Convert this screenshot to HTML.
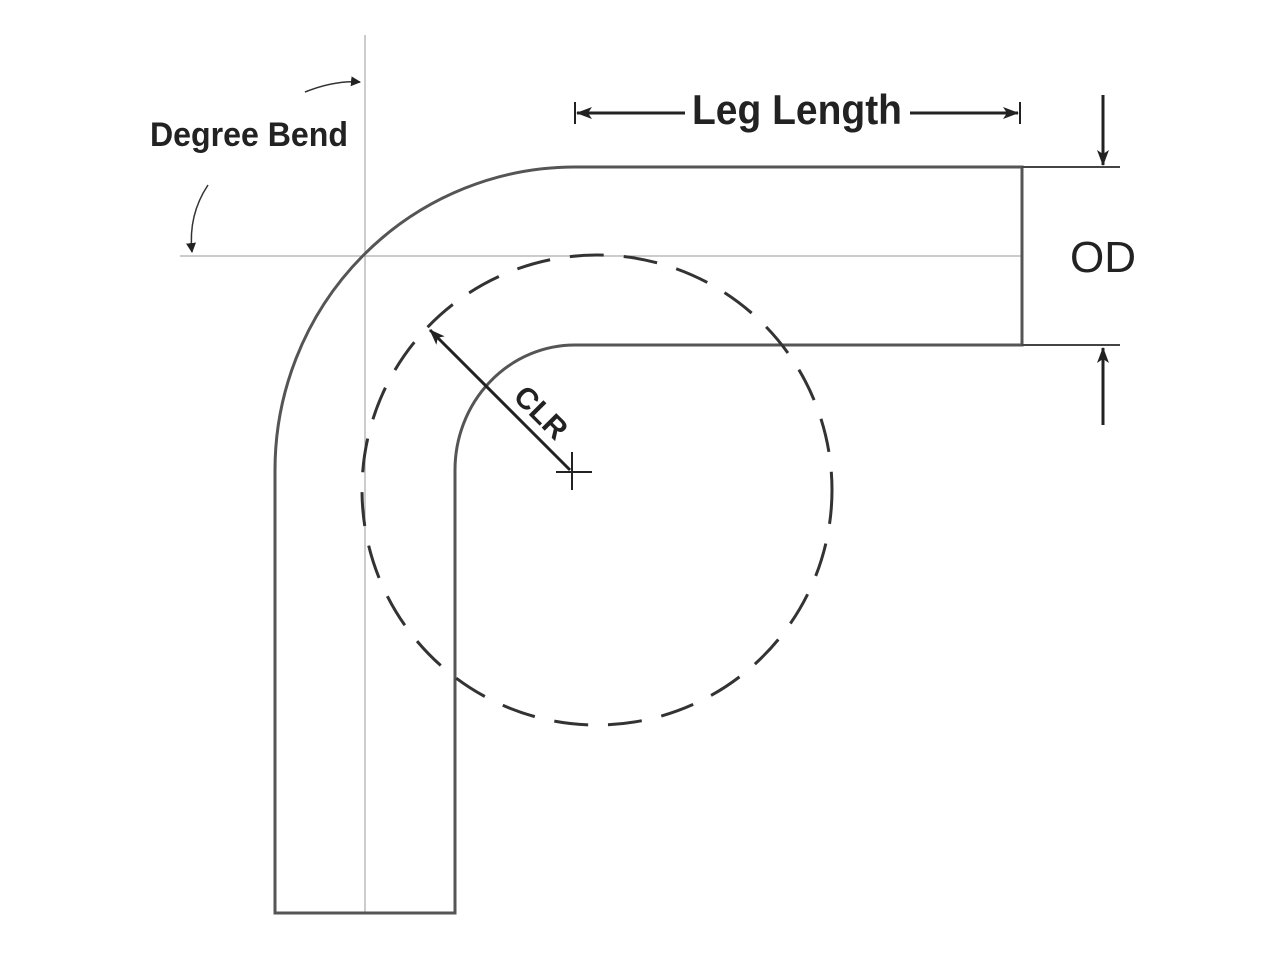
<!DOCTYPE html>
<html><head><style>
html,body{margin:0;padding:0;background:#fff;}
svg{display:block}
text{font-family:"Liberation Sans",sans-serif;font-weight:bold;fill:#222}
</style></head><body>
<svg width="1280" height="960" viewBox="0 0 1280 960" xmlns="http://www.w3.org/2000/svg">
<defs>
<marker id="ah" markerWidth="10" markerHeight="10" refX="9" refY="5" orient="auto" markerUnits="userSpaceOnUse">
<path d="M0,0 L10,5 L0,10 z" fill="#222"/></marker>
<marker id="ah2" markerWidth="16" markerHeight="12" refX="15" refY="6" orient="auto" markerUnits="userSpaceOnUse">
<path d="M0,0 L16,6 L0,12 L4,6 z" fill="#222"/></marker>
</defs>
<!-- center lines -->
<line x1="365" y1="35" x2="365" y2="913" stroke="#999" stroke-width="1"/>
<line x1="180" y1="256" x2="1022" y2="256" stroke="#999" stroke-width="1"/>
<!-- pipe -->
<path d="M275,913 L275,470 A300,303 0 0 1 575,167 L1022,167 L1022,345 L575,345 A120,125 0 0 0 455,470 L455,913 Z" fill="none" stroke="#555" stroke-width="3"/>
<!-- dashed circle -->
<circle cx="597" cy="490" r="235" fill="none" stroke="#333" stroke-width="3" stroke-dasharray="34,20"/>
<!-- CLR -->
<line x1="570" y1="470" x2="430" y2="330" stroke="#222" stroke-width="3" marker-end="url(#ah2)"/>
<line x1="556" y1="472" x2="592" y2="472" stroke="#222" stroke-width="2"/>
<line x1="572" y1="452" x2="572" y2="490" stroke="#222" stroke-width="2"/>
<text x="0" y="0" font-size="30" transform="translate(512,398) rotate(45)" style="font-family:'Liberation Sans Narrow','Liberation Sans',sans-serif">CLR</text>
<!-- Leg Length -->
<line x1="575" y1="102" x2="575" y2="124" stroke="#222" stroke-width="2"/>
<line x1="1020" y1="102" x2="1020" y2="124" stroke="#222" stroke-width="2"/>
<line x1="685" y1="113" x2="577" y2="113" stroke="#222" stroke-width="3" marker-end="url(#ah2)"/>
<line x1="910" y1="113" x2="1018" y2="113" stroke="#222" stroke-width="3" marker-end="url(#ah2)"/>
<text x="797" y="124" font-size="42" text-anchor="middle" textLength="210" lengthAdjust="spacingAndGlyphs">Leg Length</text>
<!-- OD -->
<line x1="1022" y1="167" x2="1120" y2="167" stroke="#444" stroke-width="2"/>
<line x1="1022" y1="345" x2="1120" y2="345" stroke="#444" stroke-width="2"/>
<line x1="1103" y1="95" x2="1103" y2="165" stroke="#222" stroke-width="3" marker-end="url(#ah2)"/>
<line x1="1103" y1="425" x2="1103" y2="348" stroke="#222" stroke-width="3" marker-end="url(#ah2)"/>
<text x="1070" y="272" font-size="44" style="font-weight:normal">OD</text>
<!-- Degree Bend -->
<text x="150" y="146" font-size="34" textLength="198" lengthAdjust="spacingAndGlyphs">Degree Bend</text>
<path d="M305,92 Q335,80 360,82" fill="none" stroke="#333" stroke-width="1.5" marker-end="url(#ah)"/>
<path d="M208,185 Q188,215 192,252" fill="none" stroke="#333" stroke-width="1.5" marker-end="url(#ah)"/>
</svg>
</body></html>
